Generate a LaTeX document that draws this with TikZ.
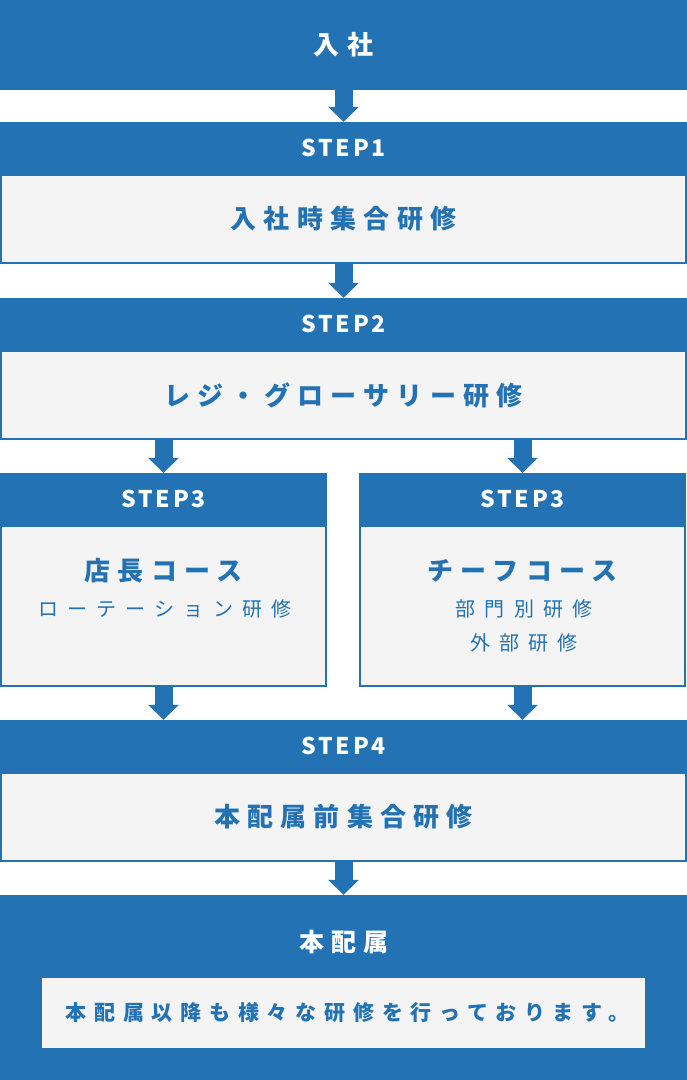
\documentclass[tikz,border=0pt]{standalone}
\usepackage{fontspec}
\setmainfont{Noto Sans CJK JP}
\newfontfamily\headfont[LetterSpace=28]{Noto Sans CJK JP}
\newfontfamily\subfont[LetterSpace=46]{Noto Sans CJK JP}
\newfontfamily\stepfont[LetterSpace=12]{Noto Sans CJK JP}
\newfontfamily\notefont[LetterSpace=37]{Noto Sans CJK JP}
\usetikzlibrary{arrows.meta,calc}
\definecolor{mblue}{RGB}{34,114,180}
\definecolor{mgray}{RGB}{244,244,244}
\tikzset{
  blk/.style={fill=mblue, draw=none, inner sep=0pt, minimum width=687pt, text=white,
    font=\headfont\bfseries\fontsize{26pt}{30pt}\selectfont},
  hdr/.style={fill=mblue, draw=none, inner sep=0pt, minimum height=52pt, text=white,
    font=\stepfont\bfseries\fontsize{23pt}{26pt}\selectfont},
  stepbox/.style={draw=mblue, line width=2pt, fill=mgray, inner sep=0pt},
  bigtxt/.style={text=mblue, inner sep=0pt, font=\headfont\bfseries\fontsize{26pt}{30pt}\selectfont},
  subtxt/.style={text=mblue, inner sep=0pt, font=\subfont\fontsize{20pt}{24pt}\selectfont},
  arr/.style={draw=mblue, line width=18pt, -{Triangle[width=30pt,length=15pt]}},
}
\begin{document}
\begin{tikzpicture}[x=1pt,y=-1pt]
\useasboundingbox (0,0) rectangle (687,1080);
% top
\node[blk, minimum height=90pt] (top) at (343.5,45) {入社};
% STEP1
\node[hdr, minimum width=687pt] (s1h) at (343.5,148) {STEP1};
\node[stepbox, minimum width=685pt, minimum height=88pt] (s1b) at (343.5,219) {};
\node[bigtxt] (s1t) at (s1b.center) {入社時集合研修};
% STEP2
\node[hdr, minimum width=687pt] (s2h) at (343.5,324) {STEP2};
\node[stepbox, minimum width=685pt, minimum height=88pt] (s2b) at (343.5,395) {};
\node[bigtxt] (s2t) at (s2b.center) {レジ・グローサリー研修};
% STEP3 left
\node[hdr, minimum width=327pt] (s3lh) at (163.5,499) {STEP3};
\node[stepbox, minimum width=325pt, minimum height=160pt] (s3lb) at (163.5,606) {};
\node[bigtxt] (s3lt) at (163.5,571) {店長コース};
\node[subtxt] (s3ls) at (165,609) {ローテーション研修};
% STEP3 right
\node[hdr, minimum width=327pt] (s3rh) at (522.5,499) {STEP3};
\node[stepbox, minimum width=325pt, minimum height=160pt] (s3rb) at (522.5,606) {};
\node[bigtxt] (s3rt) at (522.5,571) {チーフコース};
\node[subtxt] (s3rs1) at (524,609) {部門別研修};
\node[subtxt] (s3rs2) at (524,643) {外部研修};
% STEP4
\node[hdr, minimum width=687pt] (s4h) at (343.5,746) {STEP4};
\node[stepbox, minimum width=685pt, minimum height=88pt] (s4b) at (343.5,817) {};
\node[bigtxt] (s4t) at (s4b.center) {本配属前集合研修};
% bottom
\node[blk, minimum height=185pt] (bot) at (343.5,987.5) {};
\node[text=white, inner sep=0pt, font=\headfont\bfseries\fontsize{25pt}{30pt}\selectfont] (bott) at (343.5,942) {本配属};
\node[fill=mgray, inner sep=0pt, minimum width=603pt, minimum height=70pt] (note) at (343.5,1012.5) {};
\node[text=mblue, inner sep=0pt, font=\notefont\bfseries\fontsize{21pt}{26pt}\selectfont] (notet) at ($(note.center)+(4,0)$) {本配属以降も様々な研修を行っております。};
% arrows
\draw[arr] (top.south) -- (s1h.north);
\draw[arr] (s1b.south) -- (s2h.north);
\draw[arr] (s3lh.north |- s2b.south) -- (s3lh.north);
\draw[arr] (s3rh.north |- s2b.south) -- (s3rh.north);
\draw[arr] (s3lb.south) -- (s3lb.south |- s4h.north);
\draw[arr] (s3rb.south) -- (s3rb.south |- s4h.north);
\draw[arr] (s4b.south) -- (bot.north);
\end{tikzpicture}
\end{document}
